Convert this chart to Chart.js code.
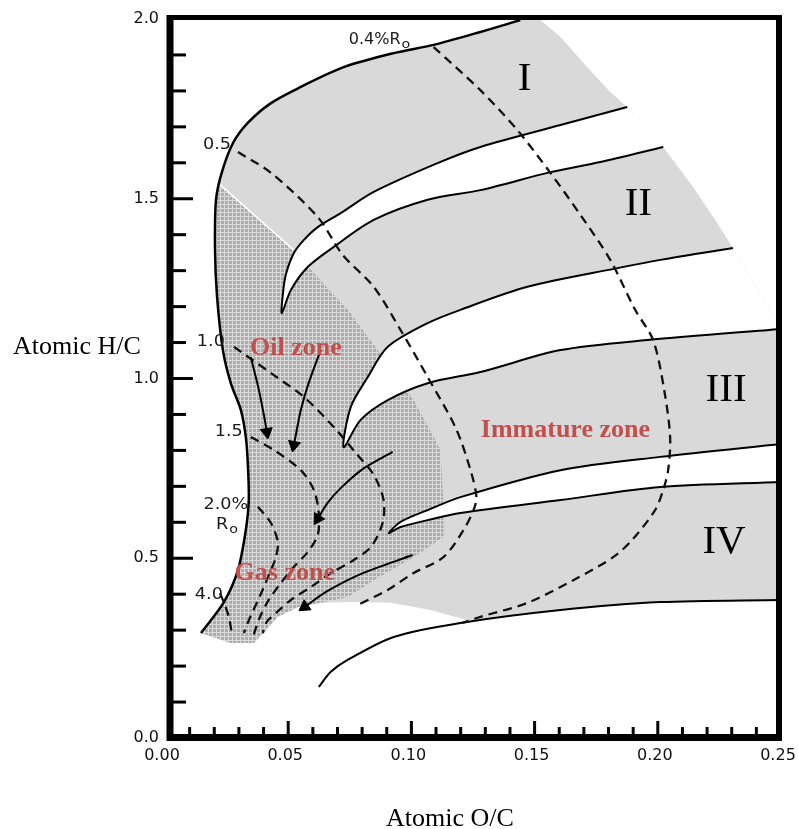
<!DOCTYPE html>
<html>
<head>
<meta charset="utf-8">
<script src="https://cdn.jsdelivr.net/npm/chart.js@4.4.1/dist/chart.umd.min.js"></script>
<style>body{margin:0;background:#fff}</style>
</head>
<body>
<canvas id="vk" width="798" height="829"></canvas>
<script>
// [O/C, H/C] pairs
const outerCurve = [[0.0146,0.292],[0.0239,0.378],[0.0296,0.467],[0.0328,0.579],[0.0340,0.662],[0.0336,0.765],[0.0328,0.837],[0.0308,0.912],[0.0267,0.987],[0.0235,1.079],[0.0211,1.230],[0.0203,1.360],[0.0207,1.497],[0.0231,1.574],[0.0276,1.655],[0.0336,1.711],[0.0430,1.766],[0.0551,1.811],[0.0725,1.866],[0.0928,1.905],[0.1090,1.928],[0.1280,1.964],[0.1442,1.997]];
const typeIRight = [[0.1442,1.997],[0.1524,1.997],[0.1605,1.950],[0.1714,1.866],[0.1807,1.797],[0.1876,1.755]];
const typeILower = [[0.1876,1.755],[0.1605,1.705],[0.1280,1.644],[0.1106,1.599],[0.0847,1.519],[0.0713,1.460],[0.0620,1.421],[0.0563,1.385],[0.0523,1.349],[0.0490,1.288],[0.0478,1.232],[0.0474,1.182]];
const typeIIUpper = [[0.0474,1.182],[0.0511,1.246],[0.0579,1.310],[0.0685,1.366],[0.0847,1.441],[0.1066,1.497],[0.1280,1.524],[0.1564,1.574],[0.1767,1.602],[0.2022,1.644]];
const typeIIRight = [[0.2022,1.644],[0.2143,1.533],[0.2233,1.441],[0.2305,1.363]];
const typeIILower = [[0.2305,1.363],[0.2010,1.330],[0.1836,1.307],[0.1471,1.255],[0.1199,1.191],[0.1066,1.154],[0.0904,1.088],[0.0823,1.004],[0.0754,0.921],[0.0725,0.809]];
const typeIIIUpper = [[0.0725,0.809],[0.0794,0.885],[0.0904,0.940],[0.1066,0.987],[0.1280,1.018],[0.1605,1.079],[0.1957,1.107],[0.2500,1.138]];
const typeIIILower = [[0.2500,0.818],[0.2010,0.782],[0.1605,0.745],[0.1199,0.670],[0.1066,0.634],[0.0956,0.601],[0.0908,0.570]];
const typeIVUpper = [[0.0908,0.570],[0.0956,0.587],[0.1066,0.606],[0.1199,0.626],[0.1605,0.662],[0.2010,0.698],[0.2500,0.712]];
const bottomCurve = [[0.0624,0.142],[0.0673,0.184],[0.0741,0.217],[0.0928,0.281],[0.1199,0.320],[0.1605,0.356],[0.2010,0.378],[0.2500,0.384]];
const grayBottom = [[0.1240,0.325],[0.1078,0.356],[0.0916,0.376],[0.0754,0.378],[0.0632,0.376],[0.0539,0.364],[0.0458,0.337],[0.0417,0.306],[0.0361,0.264],[0.0267,0.264],[0.0146,0.292]];
const hatchRight = [[0.0222,1.540],[0.0523,1.357],[0.0604,1.293],[0.0742,1.191],[0.0863,1.079],[0.1009,0.940],[0.1118,0.801],[0.1130,0.654],[0.1130,0.559],[0.1009,0.503],[0.0847,0.439],[0.0742,0.392],[0.0632,0.376]];

// vitrinite reflectance (%Ro) lines
const ro04 = [[0.1090,1.922],[0.1280,1.802],[0.1430,1.691],[0.1564,1.572],[0.1686,1.455],[0.1807,1.330],[0.1908,1.191],[0.1981,1.107],[0.2026,0.968],[0.2050,0.837],[0.2042,0.745],[0.2022,0.690],[0.1989,0.634],[0.1896,0.551],[0.1819,0.503],[0.1657,0.439],[0.1471,0.376],[0.1280,0.337],[0.1207,0.320]];
const ro05 = [[0.0296,1.630],[0.0430,1.572],[0.0620,1.449],[0.0721,1.344],[0.0847,1.255],[0.0956,1.135],[0.1066,1.004],[0.1180,0.862],[0.1240,0.745],[0.1264,0.670],[0.1252,0.634],[0.1212,0.579],[0.1130,0.503],[0.1009,0.459],[0.0904,0.412],[0.0782,0.370]];
const ro10 = [[0.0280,1.088],[0.0430,1.015],[0.0563,0.949],[0.0685,0.865],[0.0774,0.793],[0.0847,0.732],[0.0887,0.662],[0.0883,0.598],[0.0835,0.531],[0.0754,0.490],[0.0673,0.459],[0.0592,0.420],[0.0511,0.384],[0.0454,0.350],[0.0413,0.323],[0.0397,0.292]];
const ro15 = [[0.0348,0.837],[0.0442,0.801],[0.0551,0.745],[0.0604,0.690],[0.0624,0.626],[0.0620,0.565],[0.0579,0.517],[0.0523,0.476],[0.0470,0.431],[0.0421,0.384],[0.0389,0.342],[0.0369,0.306],[0.0357,0.281]];
const ro20 = [[0.0377,0.643],[0.0430,0.598],[0.0458,0.545],[0.0450,0.503],[0.0430,0.467],[0.0401,0.420],[0.0373,0.376],[0.0344,0.334],[0.0320,0.292]];
const ro40 = [[0.0223,0.403],[0.0243,0.370],[0.0259,0.337],[0.0271,0.292]];

// maturation path arrows
const arrow1 = [[0.0348,1.060],[0.0381,0.968],[0.0405,0.885],[0.0413,0.851]];
const arrow2 = [[0.0632,1.079],[0.0583,0.987],[0.0551,0.912],[0.0531,0.843],[0.0523,0.815]];
const arrow3 = [[0.0924,0.796],[0.0802,0.748],[0.0713,0.695],[0.0660,0.654],[0.0620,0.610]];
const arrow4 = [[0.1005,0.509],[0.0794,0.456],[0.0660,0.409],[0.0567,0.365]];

// labels
const typeLabels = ['I', 'II', 'III', 'IV'];
const typeLabelPos = [[0.1459,1.839],[0.1921,1.491],[0.2277,0.974],[0.2269,0.551]];
const zoneLabels = ['Oil zone', 'Immature zone', 'Gas zone'];
const zoneLabelPos = [[0.0531,1.090],[0.1625,0.862],[0.0486,0.462]];
const roLabels = ['0.5', '1.0', '1.5', '2.0%', '4.0'];
const roLabelPos = [[0.0211,1.655],[0.0186,1.107],[0.0259,0.857],[0.0247,0.654],[0.0178,0.403]];

const P = a => a.map(p => ({x: p[0], y: p[1]}));

const envelope = [...outerCurve, ...typeIRight.slice(1), ...typeIIRight, [0.25,1.138], ...bottomCurve.slice(5).reverse(), ...grayBottom];
const hatchArea = [...outerCurve.slice(0, 13), ...hatchRight, ...grayBottom.slice(5)];
const gapI = [...typeILower, ...typeIIUpper.slice(1)];
const gapII = [...typeIILower, ...typeIIIUpper.slice(1)];
const gapIII = [...typeIIILower, ...typeIVUpper.slice(1)];

const hatch = (() => {
  const c = document.createElement('canvas'); c.width = 4; c.height = 4;
  const g = c.getContext('2d');
  g.fillStyle = '#acacac'; g.fillRect(0, 0, 4, 4);
  g.fillStyle = '#dadada'; g.fillRect(0, 0, 4, 1); g.fillRect(0, 0, 1, 4);
  return g.createPattern(c, 'repeat');
})();

const datasets = [];
datasets.push({data: P(envelope), backgroundColor: '#d9d9d9', borderWidth: 0, fill: 'shape', tension: 0, order: 20});
datasets.push({data: P(hatchArea), backgroundColor: hatch, borderWidth: 0, fill: 'shape', tension: 0, order: 19});
// thin white seam where the hatched field meets the type I band
datasets.push({data: P(hatchRight.slice(0, 2)), borderColor: '#fff', borderWidth: 1.5, fill: false, tension: 0, order: 18});
[gapI, gapII, gapIII].forEach(g => datasets.push({data: P(g), backgroundColor: '#fff', borderColor: '#000', borderWidth: 2, fill: 'shape', order: 15}));
datasets.push({data: P(outerCurve), borderColor: '#000', borderWidth: 2.5, fill: false, order: 10});
datasets.push({data: P(bottomCurve), borderColor: '#000', borderWidth: 2, fill: false, order: 10});
[ro04, ro05, ro10, ro15, ro20, ro40].forEach(r => datasets.push({data: P(r), borderColor: '#111', borderWidth: 2.3, borderDash: [9, 6], fill: false, order: 5}));

function headAngle(c) {
  const d = c.dataset.data, n = d.length;
  const sx = c.chart.scales.x, sy = c.chart.scales.y;
  const dx = sx.getPixelForValue(d[n-1].x) - sx.getPixelForValue(d[n-2].x);
  const dy = sy.getPixelForValue(d[n-1].y) - sy.getPixelForValue(d[n-2].y);
  return Math.atan2(dx, -dy) * 180 / Math.PI;
}
[arrow1, arrow2, arrow3, arrow4].forEach(a => datasets.push({
  data: P(a), borderColor: '#000', borderWidth: 2, fill: false, order: 3,
  pointStyle: 'triangle',
  pointRadius: c => c.dataIndex === c.dataset.data.length - 1 ? 7 : 0,
  pointRotation: c => c.dataIndex === c.dataset.data.length - 1 ? headAngle(c) : 0,
  pointBackgroundColor: '#000', pointBorderColor: '#000', pointBorderWidth: 1
}));

function sText(ctx, s, px, py, align, sx) {
  ctx.save(); ctx.translate(px, py); ctx.scale(sx, 1);
  ctx.textAlign = align; ctx.fillText(s, 0, 0); ctx.restore();
}

const decor = {
  id: 'decor',
  afterDatasetsDraw(chart) {
    const {ctx, chartArea: a, scales: {x, y}} = chart;
    ctx.save();
    ctx.strokeStyle = '#000';
    ctx.lineWidth = 3;
    y.ticks.forEach(t => {
      const k = Math.round(t.value * 10);
      if (k === 0 || k === 20) return;
      const py = y.getPixelForValue(t.value);
      ctx.beginPath(); ctx.moveTo(a.left + 6, py); ctx.lineTo(a.left + (k % 5 === 0 ? 28 : 21), py); ctx.stroke();
    });
    x.ticks.forEach(t => {
      const k = Math.round(t.value * 100);
      if (k === 0 || k === 25) return;
      const px = x.getPixelForValue(t.value);
      ctx.beginPath(); ctx.moveTo(px, a.bottom - 3); ctx.lineTo(px, a.bottom - (k % 5 === 0 ? 17 : 11)); ctx.stroke();
    });
    // frame
    ctx.lineWidth = 7;
    ctx.beginPath(); ctx.moveTo(a.left + 5, a.top - 4); ctx.lineTo(a.left + 5, a.bottom + 3); ctx.stroke();
    ctx.beginPath(); ctx.moveTo(a.left + 2, a.bottom - 0.5); ctx.lineTo(a.right + 1, a.bottom - 0.5); ctx.stroke();
    ctx.lineWidth = 5;
    ctx.beginPath(); ctx.moveTo(a.left + 2, a.top - 1.5); ctx.lineTo(a.right + 1, a.top - 1.5); ctx.stroke();
    ctx.lineWidth = 6;
    ctx.beginPath(); ctx.moveTo(a.right - 2, a.top - 4); ctx.lineTo(a.right - 2, a.bottom + 3); ctx.stroke();

    ctx.textBaseline = 'alphabetic';
    ctx.fillStyle = '#000';
    ctx.font = '41px "Liberation Serif"';
    typeLabels.forEach((s, i) => sText(ctx, s, x.getPixelForValue(typeLabelPos[i][0]), y.getPixelForValue(typeLabelPos[i][1]) + 13.5, 'center', 1));

    ctx.fillStyle = '#c0504d';
    ctx.font = 'bold 26px "Liberation Serif"';
    zoneLabels.forEach((s, i) => sText(ctx, s, x.getPixelForValue(zoneLabelPos[i][0]), y.getPixelForValue(zoneLabelPos[i][1]) + 8.5, 'center', 1));

    ctx.fillStyle = '#1a1a1a';
    ctx.font = '16px "DejaVu Sans"';
    roLabels.forEach((s, i) => sText(ctx, s, x.getPixelForValue(roLabelPos[i][0]), y.getPixelForValue(roLabelPos[i][1]) + 6, 'center', 1.1));
    // 0.4%Ro
    let px = x.getPixelForValue(0.0746), py = y.getPixelForValue(1.947) + 6;
    sText(ctx, '0.4%R', px, py, 'left', 1);
    let w = ctx.measureText('0.4%R').width;
    ctx.font = '13px "DejaVu Sans"';
    sText(ctx, 'o', px + w + 1, py + 4, 'left', 1.1);
    // Ro under 2.0%
    ctx.font = '16px "DejaVu Sans"';
    px = x.getPixelForValue(0.0207); py = y.getPixelForValue(0.598) + 6;
    sText(ctx, 'R', px, py, 'left', 1.1);
    w = ctx.measureText('R').width * 1.1;
    ctx.font = '13px "DejaVu Sans"';
    sText(ctx, 'o', px + w + 1, py + 4, 'left', 1.1);

    ctx.fillStyle = '#000';
    ctx.font = '26px "Liberation Serif"';
    ctx.textAlign = 'center';
    ctx.fillText('Atomic H/C', 77, 354);
    ctx.fillText('Atomic O/C', 450, 826);
    ctx.restore();
  }
};

new Chart(document.getElementById('vk'), {
  type: 'line',
  data: {datasets: datasets},
  options: {
    responsive: false,
    animation: false,
    layout: {padding: {top: 19, right: 17, left: 0, bottom: 0}},
    plugins: {legend: {display: false}, tooltip: {enabled: false}},
    elements: {point: {radius: 0}, line: {tension: 0.3}},
    scales: {
      x: {
        type: 'linear', min: 0, max: 0.25,
        grid: {display: false, drawTicks: false}, border: {display: false},
        ticks: {
          stepSize: 0.01, autoSkip: false, maxRotation: 0, padding: 8, labelOffset: -3,
          color: '#111', font: {family: 'DejaVu Sans', size: 16},
          callback: v => { const k = Math.round(v * 100); return k % 5 === 0 ? (k / 100).toFixed(2) : ''; }
        },
        afterFit: s => { s.height = 91; s.paddingLeft = 0; s.paddingRight = 0; }
      },
      y: {
        type: 'linear', min: 0, max: 2,
        grid: {display: false, drawTicks: false}, border: {display: false},
        ticks: {
          stepSize: 0.1, autoSkip: false, padding: 6,
          color: '#111', font: {family: 'DejaVu Sans', size: 16},
          callback: v => { const k = Math.round(v * 10); return k % 5 === 0 ? (k / 10).toFixed(1) : ''; }
        },
        afterFit: s => { s.width = 165; s.paddingTop = 0; s.paddingBottom = 0; }
      }
    }
  },
  plugins: [decor]
});
</script>
</body>
</html>
